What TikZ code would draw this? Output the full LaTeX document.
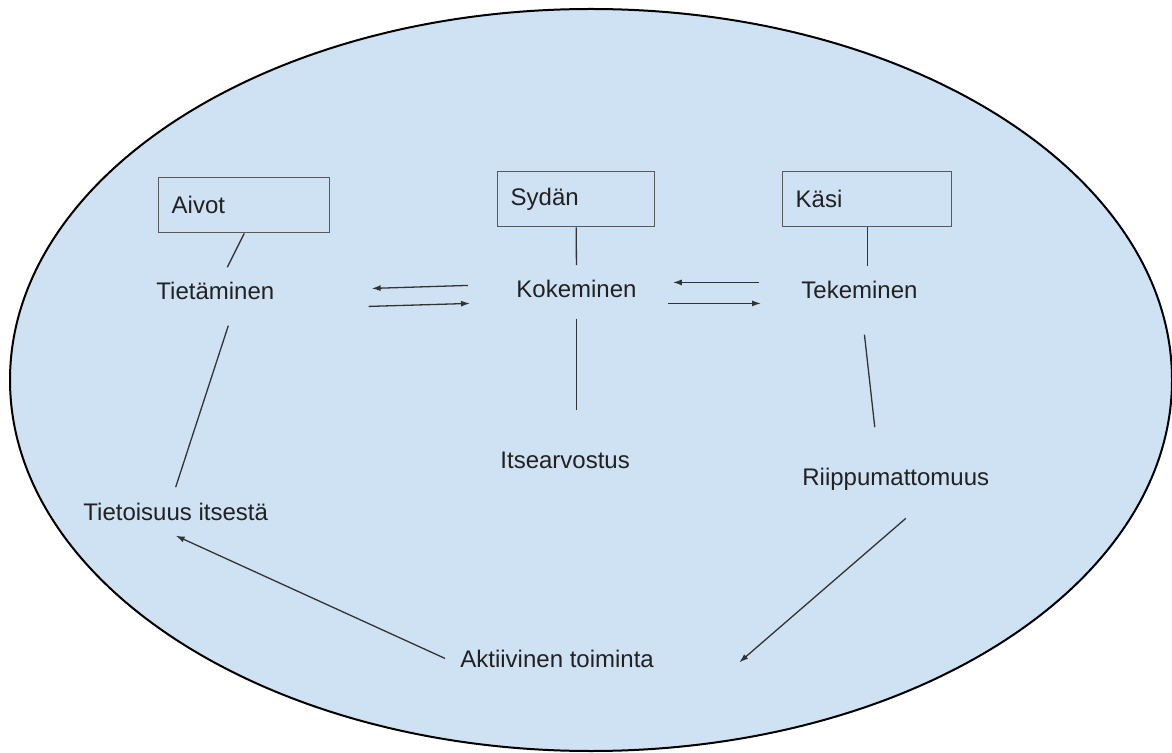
\documentclass[tikz,border=0pt]{standalone}
\usepackage{fontspec}
\setmainfont{Liberation Sans}
\usetikzlibrary{arrows.meta,calc}
\definecolor{pohja}{RGB}{207,226,243}
\definecolor{reuna}{RGB}{89,89,89}

\begin{document}
\begin{tikzpicture}[x=0.5pt,y=-0.5pt,
  font=\fontsize{12}{14}\selectfont,
  laatikko/.style={draw=reuna,line width=0.7pt,minimum height=27.5pt,inner xsep=6.5pt,align=left,anchor=north west,text=black!87},
  teksti/.style={inner sep=7.5pt,anchor=base west,text=black!87},
  viiva/.style={draw=black!80,line width=0.65pt},
  nuoli/.style={viiva,-{Latex[length=4.5pt,width=3pt]}}]

\useasboundingbox (0,0) rectangle (1172,753);

% Background
\draw[fill=pohja,line width=1pt](591,380) ellipse [x radius=581,y radius=371];

% Boxes
\node[laatikko,text width=72.5pt] (aivot) at (158,177) {Aivot};
\node[laatikko,text width=65.5pt] (sydan) at (497,171) {Sydän};
\node[laatikko,text width=71.5pt] (kasi) at (782,171) {Käsi};

% Texts
\node[teksti] (tietaminen) at (141,300) {Tietäminen};
\node[teksti] (kokeminen) at (501,298) {Kokeminen};
\node[teksti] (tekeminen) at (786,299) {Tekeminen};
\node[teksti] (itsearvostus) at (485,468) {Itsearvostus};
\node[teksti] (riippumattomuus) at (787,485) {Riippumattomuus};
\node[teksti] (tietoisuus) at (68,520) {Tietoisuus itsestä};
\node[teksti] (aktiivinen) at (445,667) {Aktiivinen toiminta};

% Lines
\draw[viiva](aivot.south)--(tietaminen);
\draw[viiva](sydan.south)--(kokeminen.north);
\draw[viiva](kasi.south)--(kasi.south |- tekeminen.north);
\draw[viiva,shorten <=2.5pt,shorten >=13pt](kokeminen.south)--(kokeminen.south |- itsearvostus.north);
\draw[viiva]($(tietaminen.south)+(13,10)$)--(tietoisuus.north);
\draw[viiva]($(tekeminen.south)+(5,20)$)--($(riippumattomuus.north)+(-21,-25)$);

% Arrows
\draw[nuoli]($(kokeminen.west)+(-33,-4)$)--($(tietaminen.east)+(82,-3)$);
\draw[nuoli]($(tietaminen.east)+(79,15)$)--($(kokeminen.west)+(-31,14)$);
\draw[nuoli]($(tekeminen.west)+(-27,-8)$)--($(kokeminen.east)+(21,-7)$);
\draw[nuoli]($(kokeminen.east)+(16,14)$)--($(tekeminen.west)+(-25,13)$);
\draw[nuoli](aktiivinen.west)--(tietoisuus.south);
\draw[nuoli]($(riippumattomuus.south)+(10,13)$)--($(aktiivinen.east)+(70,4)$);

\end{tikzpicture}
\end{document}
